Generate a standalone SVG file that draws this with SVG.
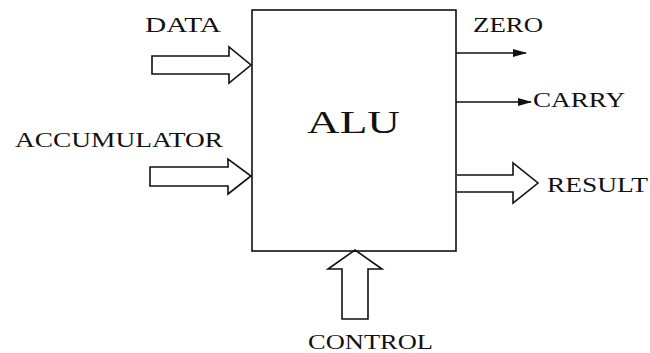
<svg xmlns="http://www.w3.org/2000/svg" width="650" height="353" viewBox="0 0 650 353">
<style>
text{font-family:"Liberation Serif","DejaVu Serif","Times New Roman",serif;fill:#111}
.lbl{font-size:20px}
.big{font-size:32px}
.shape{fill:#fff;stroke:#111;stroke-width:1.6;stroke-linejoin:miter}
.line{stroke:#111;stroke-width:1.4;fill:none}
</style>
<defs>
<marker id="ah" markerWidth="14" markerHeight="10" refX="13" refY="5" orient="auto" markerUnits="userSpaceOnUse">
<path d="M0,1 L14,5 L0,9 Z" fill="#111"/>
</marker>
</defs>
<rect width="650" height="353" fill="#fff"/>
<g id="alu">
<rect class="shape" x="252" y="10" width="204" height="241"/>
<text class="big" x="307" y="133" textLength="93" lengthAdjust="spacingAndGlyphs">ALU</text>
</g>
<g id="connectors">
<path id="data-arrow" class="shape" d="M152,56 L229,56 L229,47 L251,65 L229,83 L229,74 L152,74 Z"/>
<path id="acc-arrow" class="shape" d="M150,167 L228,167 L228,159 L251,176 L228,194 L228,186 L150,186 Z"/>
<line class="line" x1="456" y1="53" x2="526" y2="53" marker-end="url(#ah)"/>
<line class="line" x1="456" y1="102" x2="531" y2="102" marker-end="url(#ah)"/>
<path id="result-arrow" class="shape" d="M457,175 L513,175 L513,163 L538,183 L513,203 L513,192 L457,192"/>
<path id="control-arrow" class="shape" d="M342,319 L342,269 L328,269 L355,250 L382,269 L368,269 L368,319 Z"/>
</g>
<g id="data"><text class="lbl" x="145" y="32" textLength="76" lengthAdjust="spacingAndGlyphs">DATA</text></g>
<g id="accumulator"><text class="lbl" x="15" y="147" textLength="208" lengthAdjust="spacingAndGlyphs">ACCUMULATOR</text></g>
<g id="zero"><text class="lbl" x="473" y="32" textLength="70" lengthAdjust="spacingAndGlyphs">ZERO</text></g>
<g id="carry"><text class="lbl" x="533" y="107" textLength="92" lengthAdjust="spacingAndGlyphs">CARRY</text></g>
<g id="result"><text class="lbl" x="547" y="192" textLength="101" lengthAdjust="spacingAndGlyphs">RESULT</text></g>
<g id="control"><text class="lbl" x="308" y="349" textLength="125" lengthAdjust="spacingAndGlyphs">CONTROL</text></g>
</svg>
